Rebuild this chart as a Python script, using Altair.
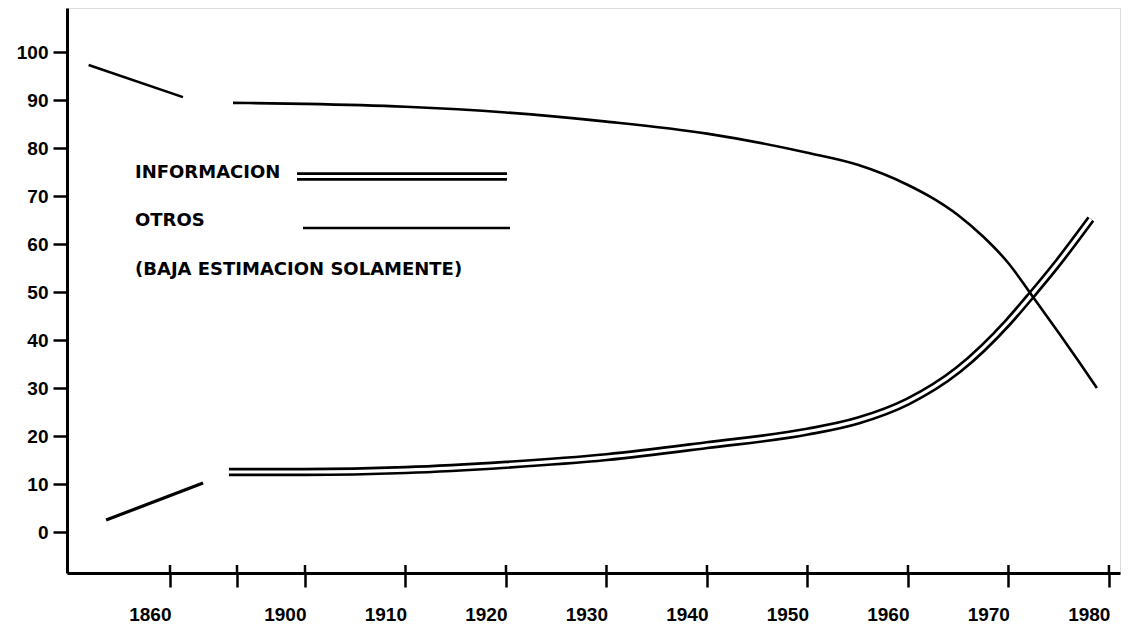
import altair as alt
import pandas as pd

# ---- data ----
# "Otros" (other sectors), % of workforce
otros_early_year = [1852.1, 1865.8]
otros_early_val = [97.3, 90.6]
otros_year = [1888.2, 1900, 1910, 1920, 1930, 1940, 1950, 1955, 1960, 1962.5, 1965, 1967.5, 1970, 1972.3, 1975, 1977, 1978.8]
otros_val = [89.4, 89.2, 88.6, 87.4, 85.5, 83.0, 79.0, 76.5, 72.3, 69.5, 66.0, 61.5, 56.0, 49.4, 41.5, 35.5, 30.0]

# "Informacion" sector, % of workforce
info_early_year = [1853.8, 1874.8]
info_early_val = [2.5, 10.2]
info_year = [1886.4, 1900, 1910, 1920, 1930, 1940, 1950, 1955, 1960, 1965, 1970, 1972.3, 1975, 1978.2]
info_val = [12.5, 12.5, 12.9, 14.0, 15.6, 18.1, 20.9, 23.2, 27.2, 33.8, 43.8, 49.4, 56.3, 65.2]

tick_years = [1860, 1890, 1900, 1910, 1920, 1930, 1940, 1950, 1960, 1970, 1980]
y_ticks = [0, 10, 20, 30, 40, 50, 60, 70, 80, 90, 100]
legend_labels = ["INFORMACION", "OTROS", "(BAJA ESTIMACION SOLAMENTE)"]

AXFONT = "Liberation Sans"
AXFS = 19
LEGFONT = "DejaVu Sans"
LEGFS = 18

otros_early = pd.DataFrame({"year": otros_early_year, "val": otros_early_val})
otros_main = pd.DataFrame({"year": otros_year, "val": otros_val})
info_early = pd.DataFrame({"year": info_early_year, "val": info_early_val})
info_main = pd.DataFrame({"year": info_year, "val": info_val})
ticks_df = pd.DataFrame({"year": tick_years})

xscale = alt.Scale(domain=[1850, 1860, 1890, 1900, 1981.1],
                   range=[0, 103, 170, 238, 1053], nice=False, zero=False)
yscale = alt.Scale(domain=[-8.54, 109.17], nice=False, zero=False)

xaxis = alt.Axis(values=tick_years, format="d",
                 labelExpr="datum.value == 1890 ? '' : datum.label",
                 labelAlign="right", labelOffset=1, labelPadding=18,
                 labelFont=AXFONT, labelFontSize=AXFS, labelFontWeight="bold",
                 labelColor="black", tickSize=14, tickWidth=2.5, tickColor="black",
                 domainColor="black", domainWidth=3, grid=False, title=None,
                 labelFlush=False, labelOverlap=False)
yaxis = alt.Axis(values=y_ticks, format="d", labelPadding=5,
                 labelFont=AXFONT, labelFontSize=AXFS, labelFontWeight="bold",
                 labelColor="black", tickSize=14, tickWidth=2.5, tickColor="black",
                 domainColor="black", domainWidth=3, grid=False, title=None,
                 labelOverlap=False)

Xa = alt.X("year:Q", scale=xscale, axis=xaxis)
Ya = alt.Y("val:Q", scale=yscale, axis=yaxis)
X = alt.X("year:Q", scale=xscale)
Y = alt.Y("val:Q", scale=yscale)

base_axes = alt.Chart(otros_main).mark_line(opacity=0).encode(x=Xa, y=Ya)

otros_a = alt.Chart(otros_early).mark_line(color="black", strokeWidth=2.6).encode(x=X, y=Y)
otros_b = alt.Chart(otros_main).mark_line(color="black", strokeWidth=2.6, interpolate="monotone").encode(x=X, y=Y)
info_a = alt.Chart(info_early).mark_line(color="black", strokeWidth=3.2).encode(x=X, y=Y)
info_b_outer = alt.Chart(info_main).mark_line(color="black", strokeWidth=8.5, interpolate="monotone",
                                              strokeCap="butt").encode(x=X, y=Y)
info_b_inner = alt.Chart(info_main).mark_line(color="white", strokeWidth=3.2, interpolate="monotone",
                                              strokeCap="butt").encode(x=X, y=Y)

# upper half of the crossing x-axis ticks
tick_up = alt.Chart(ticks_df).mark_rule(color="black", strokeWidth=2.5).encode(
    x=X, y=alt.value(557), y2=alt.value(565))

# legend block (drawn inside the plot, as in the reference)
one = pd.DataFrame({"k": [0]})
leg_rows_y = [165, 213, 262]
leg_texts = [
    alt.Chart(one).mark_text(align="left", baseline="middle", font=LEGFONT, fontSize=LEGFS,
                             fontWeight="bold", color="black", text=lab).encode(
        x=alt.value(68), y=alt.value(yy))
    for lab, yy in zip(legend_labels, leg_rows_y)
]
leg_info_outer = alt.Chart(one).mark_rule(color="black", strokeWidth=8.5).encode(
    x=alt.value(230), x2=alt.value(440), y=alt.value(168.5))
leg_info_inner = alt.Chart(one).mark_rule(color="white", strokeWidth=3.2).encode(
    x=alt.value(230), x2=alt.value(440), y=alt.value(168.5))
leg_otros = alt.Chart(one).mark_rule(color="black", strokeWidth=2.6).encode(
    x=alt.value(236), x2=alt.value(443), y=alt.value(220))

chart = alt.layer(
    base_axes, tick_up, info_a, info_b_outer, info_b_inner, otros_a, otros_b,
    *leg_texts, leg_info_outer, leg_info_inner, leg_otros
).properties(
    width=1053, height=565, autosize="none",
    padding={"left": 59, "top": 0, "right": 4, "bottom": 55}
).configure_view(stroke=None).configure(background="white")

chart.save("out.html", embed_options={"renderer": "svg", "actions": False})
